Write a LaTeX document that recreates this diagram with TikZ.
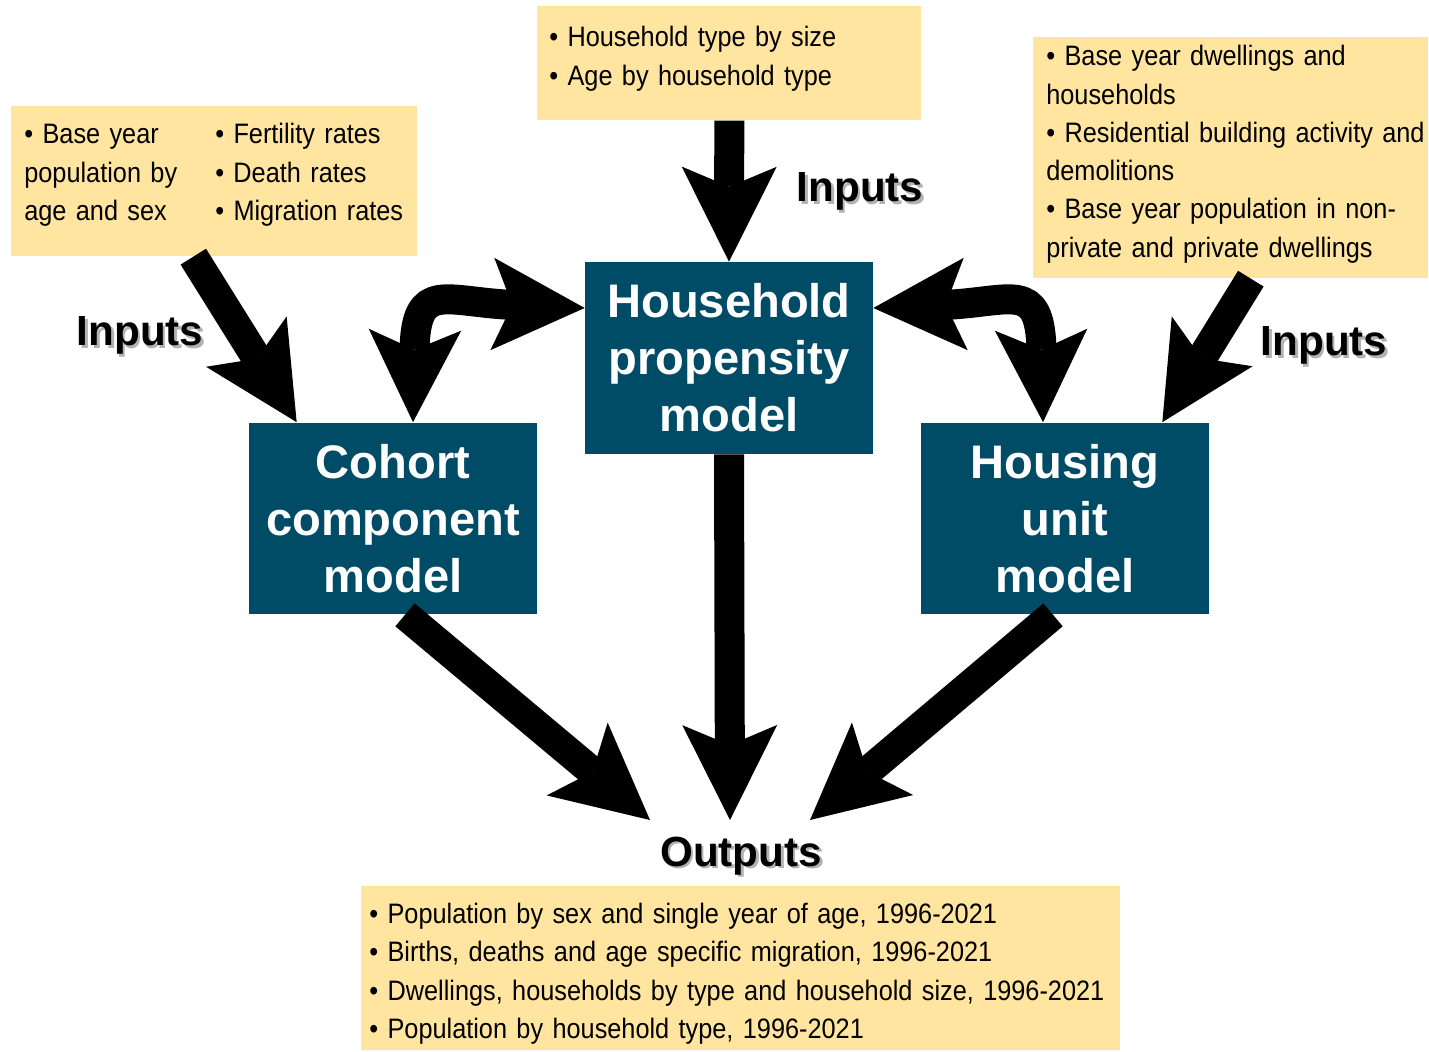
\documentclass[tikz,border=0pt]{standalone}
\usepackage{fontspec}
\setmainfont{Liberation Sans}
\newfontfamily\narrowfont[FakeStretch=0.9]{Liberation Sans}
\usetikzlibrary{arrows.meta,positioning}
\definecolor{modelteal}{RGB}{0,76,102}
\definecolor{inputyellow}{RGB}{255,229,160}
\tikzset{
	model/.style={fill=modelteal, text=white, inner sep=0pt, align=center, minimum width=5.76cm, minimum height=3.84cm, font=\bfseries\fontsize{26.8}{32.4}\selectfont},
	databox/.style={fill=inputyellow, anchor=north west, align=left, inner ysep=0pt, font=\narrowfont\fontsize{16}{21.8}\selectfont},
	flowlabel/.style={inner sep=0pt, font=\bfseries\fontsize{24}{28}\selectfont},
	bigarrow/.style={line width=0.6cm, -{Stealth[length=1.9cm, width=1.9cm, inset=0.4cm, line width=0pt]}},
	bothways/.style={line width=0.6cm, {Stealth[length=1.85cm, width=1.85cm, inset=0.4cm, line width=0pt]}-{Stealth[length=1.85cm, width=1.85cm, inset=0.4cm, line width=0pt]}}
}
\newcommand{\shadowed}[1]{\makebox[0pt][l]{\hspace{1.5pt}\raisebox{-1.5pt}{\textcolor{black!30}{#1}}}#1}
\newcommand{\shifttext}[2]{\raisebox{#1}[\height][\depth]{#2}}

\begin{document}
\begin{tikzpicture}[x=0.02cm, y=-0.02cm]
	\useasboundingbox (0,0) rectangle (1429,1051);

	% The three models are drawn.
	\node[model] (household-model) at (729,358) {Household\\propensity\\model};
	\node[model] (cohort-model) at (393,518.5) {Cohort\\component\\model};
	\node[model] (housing-model) at (1065,518.5) {Housing\\unit\\model};

	% Input boxes
	\node[databox, minimum height=3cm, text width=7.6cm, inner xsep=0.26cm] (cohort-inputs) at (11,106) {\shifttext{0.14cm}{%
		\begin{tabular}{@{}p{3.82cm}@{}l@{}}
			• Base year & • Fertility rates \\
			population by & • Death rates \\
			age and sex & • Migration rates
		\end{tabular}}};
	\node[databox, minimum height=2.28cm, text width=7.2cm, inner xsep=0.24cm] (household-inputs) at (537,6) {\shifttext{0.1cm}{%
		\begin{tabular}{@{}l@{}}
			• Household type by size \\
			• Age by household type
		\end{tabular}}};
	\node[databox, minimum height=4.82cm, text width=7.38cm, inner xsep=0.26cm] (housing-inputs) at (1033,37) {\shifttext{0.08cm}{%
		\begin{tabular}{@{}l@{}}
			• Base year dwellings and \\
			households \\
			• Residential building activity and \\
			demolitions \\
			• Base year population in non- \\
			private and private dwellings
		\end{tabular}}};

	% Output box
	\node[databox, minimum height=3.28cm, text width=14.86cm, inner xsep=0.16cm] (outputs-box) at (361,886) {\shifttext{-0.1cm}{%
		\begin{tabular}{@{}l@{}}
			• Population by sex and single year of age, 1996-2021 \\
			• Births, deaths and age specific migration, 1996-2021 \\
			• Dwellings, households by type and household size, 1996-2021 \\
			• Population by household type, 1996-2021
		\end{tabular}}};

	\node[flowlabel] (inputs-top) at (860,193) {\shadowed{Inputs}};
	\node[flowlabel] (inputs-left) at (140,337) {\shadowed{Inputs}};
	\node[flowlabel] (inputs-right) at (1324,347) {\shadowed{Inputs}};
	\node[flowlabel] (outputs-label) at (741,857) {\shadowed{Outputs}};

	\coordinate (out-left) at (650,820);
	\coordinate (out-mid) at (730,820);
	\coordinate (out-right) at (810,820);

	% Inputs into the models
	\draw[bigarrow] (household-inputs.south) -- (household-model.north);
	\draw[bigarrow] ([shift={(-21,0)}]cohort-inputs.south) -- ([shift={(48,0)}]cohort-model.north west);
	\draw[bigarrow] ([shift={(20,0)}]housing-inputs.south) -- ([shift={(-47,0)}]housing-model.north east);

	% Links between the models
	\draw[bothways] ([shift={(20,0)}]cohort-model.north) .. controls (416,280) and (445,302) .. ([shift={(0,-50)}]household-model.west);
	\draw[bothways] ([shift={(0,-50)}]household-model.east) .. controls (1011,302) and (1040,280) .. ([shift={(-22,0)}]housing-model.north);

	% Outputs of the models
	\draw[bigarrow] ([shift={(12,0)}]cohort-model.south) -- (out-left);
	\draw[bigarrow] (household-model.south) -- (out-mid);
	\draw[bigarrow] ([shift={(-12,0)}]housing-model.south) -- (out-right);
\end{tikzpicture}
\end{document}
